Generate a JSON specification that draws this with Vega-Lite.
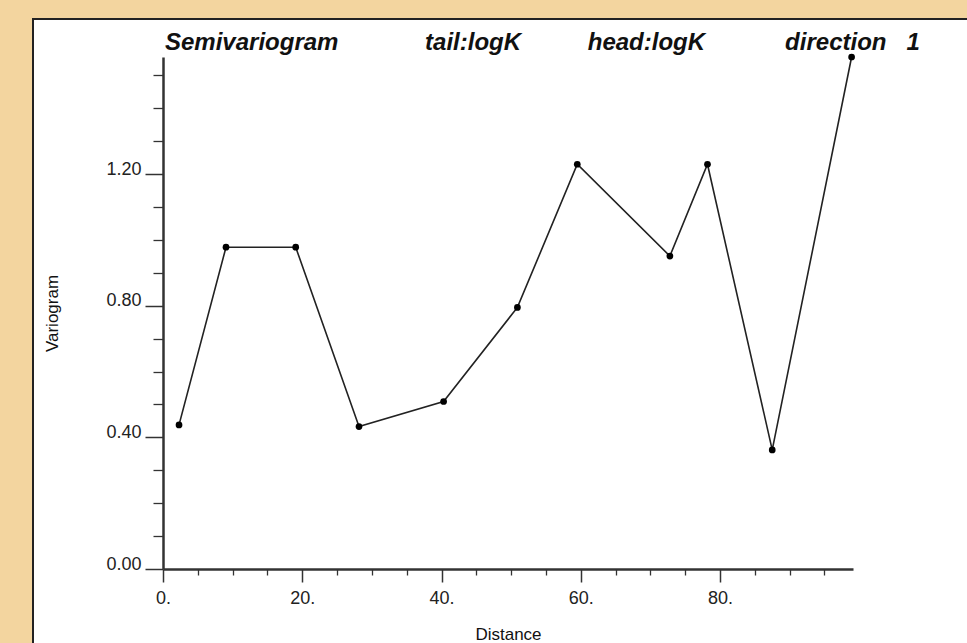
{
  "$schema": "https://vega.github.io/schema/vega-lite/v6.json",
  "width": 935,
  "height": 625,
  "autosize": {"type": "none"},
  "padding": {"left": 33, "top": 19, "right": 0, "bottom": 0},
  "background": "#f3d59f",
  "title": {
    "text": "Semivariogram\u00a0\u00a0\u00a0\u00a0\u00a0\u00a0\u00a0\u00a0\u00a0\u00a0\u00a0\u00a0\u00a0tail:logK\u00a0\u00a0\u00a0\u00a0\u00a0\u00a0\u00a0\u00a0\u00a0\u00a0head:logK\u00a0\u00a0\u00a0\u00a0\u00a0\u00a0\u00a0\u00a0\u00a0\u00a0\u00a0\u00a0direction\u00a0\u00a0\u00a01",
    "anchor": "start",
    "frame": "group",
    "orient": "top",
    "offset": 0,
    "dx": 132,
    "dy": 55,
    "baseline": "alphabetic",
    "font": "Liberation Sans",
    "fontSize": 24,
    "fontStyle": "italic",
    "fontWeight": "bold",
    "color": "#111111"
  },
  "config": {
    "view": {"fill": "white", "stroke": "#222222", "strokeWidth": 2},
    "axis": {
      "labelFont": "Liberation Sans",
      "labelFontSize": 18,
      "labelColor": "#222222",
      "titleFont": "Liberation Sans",
      "titleFontSize": 17,
      "titleFontWeight": "normal",
      "titleColor": "#111111",
      "domainColor": "#333333",
      "tickColor": "#333333",
      "grid": false
    }
  },
  "data": {
    "values": [
      {"Distance": 2.3, "Variogram": 0.438},
      {"Distance": 9.05, "Variogram": 0.978},
      {"Distance": 19.06, "Variogram": 0.978},
      {"Distance": 28.15, "Variogram": 0.433},
      {"Distance": 40.3, "Variogram": 0.509},
      {"Distance": 50.9, "Variogram": 0.795},
      {"Distance": 59.5, "Variogram": 1.23},
      {"Distance": 72.8, "Variogram": 0.951},
      {"Distance": 78.2, "Variogram": 1.23},
      {"Distance": 87.5, "Variogram": 0.362},
      {"Distance": 98.9, "Variogram": 1.556}
    ]
  },
  "resolve": {"axis": {"x": "independent", "y": "independent"}},
  "layer": [
    {
      "mark": {"type": "line", "color": "#222222", "strokeWidth": 1.6},
      "encoding": {
        "x": {
          "field": "Distance",
          "type": "quantitative",
          "scale": {"domain": [0, 99.1], "range": [130, 820], "nice": false},
          "axis": {
            "orient": "bottom",
            "offset": -75,
            "title": "Distance",
            "values": [0, 20, 40, 60, 80],
            "labelExpr": "datum.value + '.'",
            "tickSize": 13,
            "tickWidth": 1.5,
            "domainWidth": 2.5,
            "labelPadding": 7,
            "labelFlush": false,
            "labelOverlap": false,
            "titleY": 57,
            "titleBaseline": "top"
          }
        },
        "y": {
          "field": "Variogram",
          "type": "quantitative",
          "scale": {"domain": [0, 1.556], "range": [550, 38], "nice": false},
          "axis": {
            "orient": "left",
            "offset": -130,
            "title": "Variogram",
            "values": [0, 0.4, 0.8, 1.2],
            "format": ".2f",
            "tickSize": 18,
            "tickWidth": 1.5,
            "domainWidth": 2.5,
            "labelPadding": 4,
            "labelBaseline": "alphabetic",
            "labelFlush": false,
            "labelOverlap": false,
            "titleX": -111,
            "titleBaseline": "middle"
          }
        }
      }
    },
    {
      "mark": {"type": "point", "filled": true, "color": "#000000", "size": 45, "opacity": 1},
      "encoding": {
        "x": {
          "field": "Distance",
          "type": "quantitative",
          "axis": {
            "orient": "bottom",
            "offset": -75,
            "title": null,
            "values": [5, 10, 15, 25, 30, 35, 45, 50, 55, 65, 70, 75, 85, 90, 95],
            "labels": false,
            "domain": false,
            "tickSize": 6,
            "tickWidth": 1.3
          }
        },
        "y": {
          "field": "Variogram",
          "type": "quantitative",
          "axis": {
            "orient": "left",
            "offset": -130,
            "title": null,
            "values": [0.1, 0.2, 0.3, 0.5, 0.6, 0.7, 0.9, 1.0, 1.1, 1.3, 1.4, 1.5],
            "labels": false,
            "domain": false,
            "tickSize": 10,
            "tickWidth": 1.3
          }
        }
      }
    }
  ]
}
